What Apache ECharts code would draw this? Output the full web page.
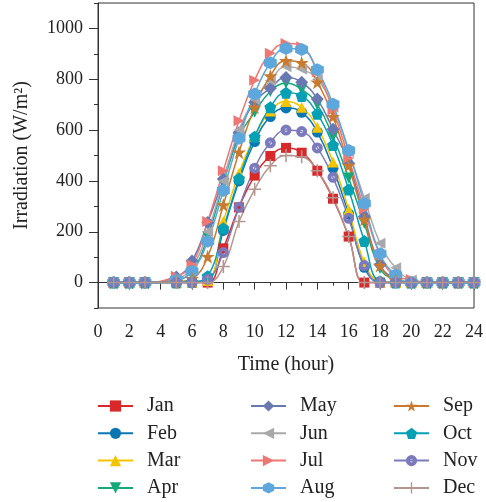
<!DOCTYPE html>
<html>
<head>
<meta charset="utf-8">
<script src="https://cdn.jsdelivr.net/npm/echarts@6/dist/echarts.min.js"></script>
<style>
html,body{margin:0;padding:0;background:#fff;}
#main{width:486px;height:502px;}
</style>
</head>
<body>
<div id="main"></div>
<script>
// Hours (hour 4 has no sample in the reference)
const hours = [1,2,3,5,6,7,8,9,10,11,12,13,14,15,16,17,18,19,20,21,22,23,24];
const months = ['Jan','Feb','Mar','Apr','May','Jun','Jul','Aug','Sep','Oct','Nov','Dec'];
const jan = [0,0,0,0,0,0,135,296,421,498,530,511,440,330,181,0,0,0,0,0,0,0,0];
const feb = [0,0,0,0,2,10,205,400,555,653,687,670,592,450,270,60,2,0,0,0,0,0,0];
const mar = [0,0,0,0,2,8,240,430,575,675,712,690,611,474,288,80,5,0,0,0,0,0,0];
const apr = [0,0,0,10,45,180,390,575,670,752,784,760,700,574,411,233,55,10,0,0,0,0,0];
const may = [0,0,0,22,85,236,408,590,710,765,807,788,722,603,470,260,70,15,0,0,0,0,0];
const jun = [0,0,0,15,60,200,400,600,720,795,849,839,800,690,515,332,155,58,10,0,0,0,0];
const jul = [0,0,0,25,70,240,440,637,796,902,941,928,830,680,490,290,110,24,12,0,0,0,0];
const aug = [0,0,0,10,45,163,362,568,742,865,921,917,837,702,520,311,113,30,0,0,0,0,0];
const sep = [0,0,0,3,15,102,305,513,690,813,873,865,788,653,461,248,67,10,0,0,0,0,0];
const oct = [0,0,0,0,3,25,214,410,574,690,747,734,664,541,366,164,5,0,0,0,0,0,0];
const nov = [0,0,0,0,0,13,118,296,450,550,600,594,530,414,253,67,0,0,0,0,0,0,0];
const dec = [0,0,0,0,0,0,63,240,367,460,500,495,440,334,181,0,0,0,0,0,0,0,0];
const values = [jan,feb,mar,apr,may,jun,jul,aug,sep,oct,nov,dec];
const yTicks = [0,200,400,600,800,1000];

const HEX = 'path://M5,0L9.33,2.5L9.33,7.5L5,10L0.67,7.5L0.67,2.5Z';
const PENT = 'path://M5,0L10,3.8L8.1,10L1.9,10L0,3.8Z';
const STAR = 'path://M5,0L6.18,3.6L10,3.6L6.9,5.9L8.1,9.5L5,7.3L1.9,9.5L3.1,5.9L0,3.6L3.82,3.6Z';
const PLUS = 'path://M4.4,0L5.6,0L5.6,4.4L10,4.4L10,5.6L5.6,5.6L5.6,10L4.4,10L4.4,5.6L0,5.6L0,4.4L4.4,4.4Z';
const RING = 'path://M5,0A5,5,0,1,1,5,10A5,5,0,1,1,5,0ZM5,3.5A1.5,1.5,0,1,0,5,6.5A1.5,1.5,0,1,0,5,3.5Z';

const styles = [
  {color:'#d9282a', symbol:'rect', size:10, rot:0},
  {color:'#0a77b3', symbol:'circle', size:11, rot:0},
  {color:'#f5c400', symbol:'triangle', size:11, rot:0},
  {color:'#16a879', symbol:'triangle', size:11, rot:180},
  {color:'#6a78b2', symbol:'diamond', size:13, rot:0},
  {color:'#a8a9ad', symbol:'triangle', size:11, rot:90},
  {color:'#ef7773', symbol:'triangle', size:11, rot:-90},
  {color:'#5ea7dc', symbol:HEX, size:13, rot:0},
  {color:'#c97a2e', symbol:STAR, size:14, rot:0},
  {color:'#06a0b4', symbol:PENT, size:12, rot:0},
  {color:'#7a7abd', symbol:RING, size:11, rot:0},
  {color:'#b3968f', symbol:PLUS, size:13, rot:0}
];

const series = months.map((m,i)=>({
  name: m,
  type: 'line',
  smooth: 0.45,
  data: hours.map((h,j)=>[h, values[i][j]]),
  symbol: styles[i].symbol,
  symbolSize: styles[i].size,
  symbolRotate: styles[i].rot,
  lineStyle: {color: styles[i].color, width: 1.5},
  itemStyle: {color: styles[i].color, borderWidth: 0},
  emphasis: {disabled: true},
  animation: false
}));

const font = 'Liberation Serif';
function legendCol(names, left){
  return {
    data: names, left: left, top: 396, orient: 'vertical', padding: 0,
    itemWidth: 35, itemHeight: 14, itemGap: 7.3,
    textStyle: {fontFamily: font, fontSize: 20, color: '#222', lineHeight: 20, padding:[0,0,0,9]},
    selectedMode: false
  };
}

const chart = echarts.init(document.getElementById('main'), null, {renderer:'canvas'});
chart.setOption({
  backgroundColor: '#fff',
  animation: false,
  grid: {left: 98, right: 10, top: 3, bottom: 194, show: true, borderColor: '#333', borderWidth: 1, backgroundColor: 'transparent'},
  legend: [
    legendCol(months.slice(0,4), 97),
    legendCol(months.slice(4,8), 250),
    legendCol(months.slice(8,12), 393)
  ],
  xAxis: {
    type: 'value', min: 0, max: 24, interval: 2,
    name: 'Time (hour)', nameLocation: 'middle', nameGap: 47,
    nameTextStyle: {fontFamily: font, fontSize: 20, color: '#222'},
    axisLine: {show: true, lineStyle: {color: '#333', width: 1}},
    axisTick: {show: true, length: 7, lineStyle: {color: '#333'}},
    minorTick: {show: true, splitNumber: 2, length: 3, lineStyle: {color: '#333'}},
    splitLine: {show: false},
    axisLabel: {fontFamily: font, fontSize: 18, color: '#222', margin: 15}
  },
  yAxis: [
    {
      type: 'value', min: -100, max: 1100, interval: 100,
      name: 'Irradiation (W/m\u00B2)', nameLocation: 'middle', nameGap: 66,
      nameTextStyle: {fontFamily: font, fontSize: 20, color: '#222'},
      axisLine: {show: true, onZero: false, lineStyle: {color: '#333', width: 1}},
      axisTick: {show: true, length: 4, lineStyle: {color: '#333'}},
      splitLine: {show: false},
      axisLabel: {show: false}
    },
    {
      type: 'value', min: -100, max: 1100, position: 'left',
      axisLine: {show: false},
      axisTick: {show: true, length: 9, customValues: yTicks, lineStyle: {color: '#333'}},
      splitLine: {show: false},
      axisLabel: {show: true, customValues: yTicks, fontFamily: font, fontSize: 18, color: '#222', margin: 15,
        formatter: v => String(v)}
    }
  ],
  series: series
});
</script>
</body>
</html>
